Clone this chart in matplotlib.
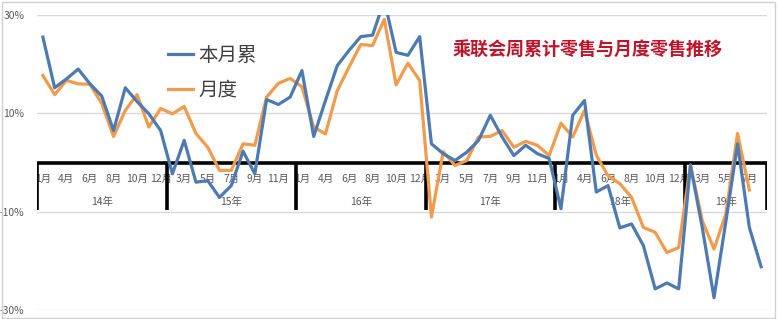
import matplotlib
matplotlib.use('Agg')
import matplotlib.pyplot as plt
from matplotlib.patches import Rectangle

plt.rcParams['font.family'] = ['Noto Sans CJK SC', 'DejaVu Sans']

# 每年的类别: 1-2月合并为"1月"
years = ['14年', '15年', '16年', '17年', '18年', '19年']
year_months = [
    [1, 3, 4, 5, 6, 7, 8, 9, 10, 11, 12],
    [1, 3, 4, 5, 6, 7, 8, 9, 10, 11, 12],
    [1, 3, 4, 5, 6, 7, 8, 9, 10, 11, 12],
    [1, 3, 4, 5, 6, 7, 8, 9, 10, 11, 12],
    [1, 3, 4, 5, 6, 7, 8, 9, 10, 11, 12],
    [1, 3, 4, 5, 6, 7, 8],
]

# 本月累 (%)
cum_week = [25.5, 15.2, 17.0, 19.0, 16.0, 13.5, 6.5, 15.2, 12.4, 9.9, 6.5,
            -2.3, 4.5, -4.0, -3.7, -7.1, -4.7, 2.3, -2.3, 12.8, 11.8, 13.3,
            18.7, 5.3, 12.6, 19.7, 22.8, 25.6, 25.9, 33.0, 22.4, 21.8, 25.6,
            3.8, 1.8, 0.4, 2.1, 4.5, 9.6, 5.2, 1.4, 3.5, 1.8, 0.8,
            -9.4, 9.6, 12.6, -6.0, -4.7, -13.3, -12.5, -16.9, -25.7, -24.5, -25.7,
            -0.6, -13.2, -27.5, -12.1, 3.8, -13.2, -21.2]

# 月度 (%)
monthly = [17.7, 13.8, 16.7, 16.0, 15.9, 12.0, 5.3, 10.6, 13.8, 7.2, 11.0,
           9.9, 11.4, 5.9, 3.1, -1.6, -1.6, 3.8, 3.5, 13.3, 16.1, 17.1,
           15.4, 7.2, 5.8, 14.6, 19.4, 24.0, 23.8, 29.1, 15.8, 20.2, 16.7,
           -11.1, 2.2, -0.6, 0.4, 5.2, 5.3, 6.5, 3.1, 4.3, 3.5, 1.4,
           8.0, 5.2, 10.6, 1.5, -2.7, -4.3, -7.1, -13.2, -14.2, -18.3, -17.3,
           -0.5, -11.8, -17.6, -10.5, 5.9, -5.6]

yticks = [-30, -10, 10, 30]

months = [m for ms in year_months for m in ms]
n = len(months)
grey = '#595959'

fig = plt.figure(figsize=(7.78, 3.19), dpi=100)
ax = fig.add_axes([37 / 778, 9 / 319, 730 / 778, 295 / 319])

x_blue = [i + 0.5 for i in range(len(cum_week))]
x_orange = [i + 0.5 for i in range(len(monthly))]
ax.plot(x_blue, cum_week, color='#4E7AB2', lw=2.3, label='本月累', zorder=5)
ax.plot(x_orange, monthly, color='#F29B4C', lw=2.3, label='月度', zorder=4)

ax.set_xlim(0, n)
ax.set_ylim(-30, 30)
ax.set_yticks(yticks)
ax.set_yticklabels([f'{v}%' for v in yticks], color=grey, fontsize=7.5)
ax.tick_params(axis='y', length=0, pad=9)
ax.set_xticks([])
ax.grid(axis='y', color='#D9D9D9', lw=1)
ax.set_axisbelow(True)
for s in ax.spines.values():
    s.set_visible(False)

# 多级分类轴
ax.plot([0, n], [0, 0], color='black', lw=2.6, solid_capstyle='butt', zorder=3)
start = 0
bounds = [0]
for yr, ms in zip(years, year_months):
    end = start + len(ms)
    bounds.append(end)
    ax.text((start + end) / 2, -8.1, yr, ha='center', va='center',
            color=grey, fontsize=7.5, zorder=1)
    start = end
for i, m in enumerate(months):
    if i % 2 == 0:
        ax.text(i + 0.5, -3.3, f'{m}月', ha='center', va='center',
                color=grey, fontsize=7.5, zorder=1, clip_on=False)
ax.vlines(bounds, -9.6, 0, color='black', lw=2.6, zorder=3)

leg = fig.legend(loc='upper left', bbox_to_anchor=(168 / 778, 1 - 45 / 319),
                 frameon=False, fontsize=14, handlelength=1.3, handletextpad=0.25,
                 labelspacing=0.7, borderpad=0, borderaxespad=0)
for t in leg.get_texts():
    t.set_color('#404040')

fig.text(588 / 778, 1 - 50 / 319, '乘联会周累计零售与月度零售推移', ha='center',
         va='center', color='#C0142A', fontsize=13, weight='bold')

fig.patches.append(Rectangle((0.002, 0.004), 0.994, 0.99, transform=fig.transFigure,
                             fill=False, edgecolor='#D0D0D0', lw=1))

fig.savefig('out.png', dpi=100)
